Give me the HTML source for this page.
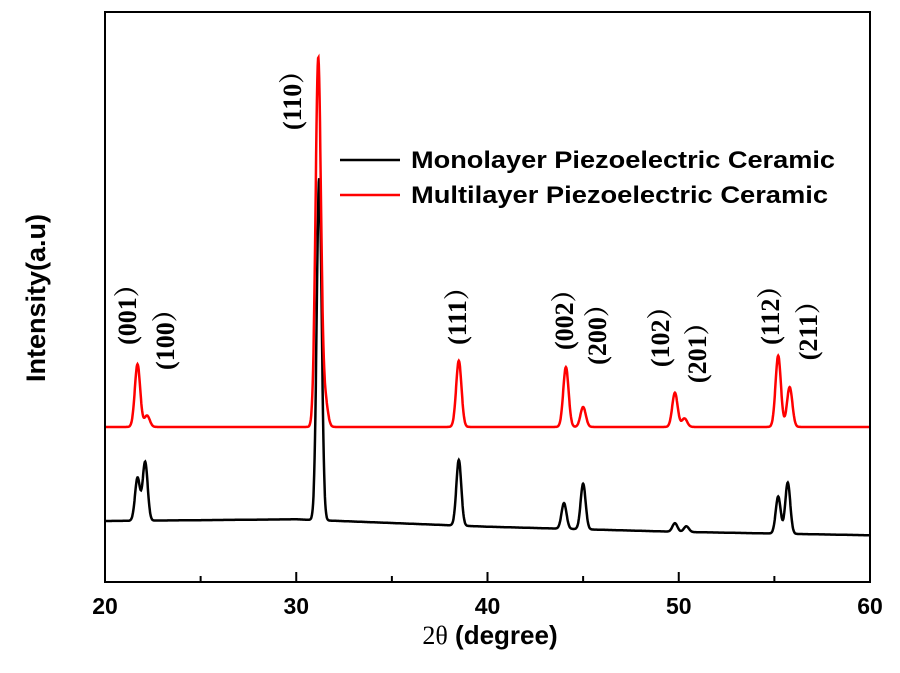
<!DOCTYPE html>
<html><head><meta charset="utf-8"><style>
body{margin:0;background:#fff}
svg text{font-family:"Liberation Sans",Arial,sans-serif}
.pk{font-family:"Liberation Serif","Noto Serif CJK SC",serif;font-weight:bold;font-size:26px}
</style></head><body>
<svg id="chart" width="900" height="668" xmlns="http://www.w3.org/2000/svg">
<rect width="900" height="668" fill="#fff"/>
<g id="series"></g>
<rect x="105" y="12" width="765" height="570" fill="none" stroke="#000" stroke-width="2"/>
<g id="axes"></g>
<text transform="translate(45,298) rotate(-90)" text-anchor="middle" font-size="27" font-weight="bold">Intensity(a.u)</text>
<text x="490" y="644" text-anchor="middle" font-size="26" font-weight="bold"><tspan font-family="Liberation Serif,serif" font-weight="normal">2θ</tspan> (degree)</text>
<g>
<line x1="340" y1="160" x2="400" y2="160" stroke="#000" stroke-width="2.5"/>
<text x="411" y="168" font-size="24" font-weight="bold" textLength="424" lengthAdjust="spacingAndGlyphs">Monolayer Piezoelectric Ceramic</text>
<line x1="340" y1="195" x2="400" y2="195" stroke="#f00" stroke-width="2.5"/>
<text x="411" y="203" font-size="24" font-weight="bold" textLength="417" lengthAdjust="spacingAndGlyphs">Multilayer Piezoelectric Ceramic</text>
</g>
<g id="labels"></g>
</svg>
<script>
const xTicks=[20,30,40,50,60];
const xMinor=[25,35,45,55];
const blackBase=[[20,10.7],[30,11],[40,9.7],[50,8.8],[60,8.2]];
const blackPos=[21.7,22.1,31.2,38.5,44.0,45.0,49.8,50.4,55.2,55.7];
const blackH=[7.5,10.3,60,11.5,4.5,8,1.5,1,6.5,9];
const redBase=[[20,27.2],[60,27.2]];
const redPos=[21.7,22.2,31.15,31.5,38.5,44.1,45.0,49.8,50.3,55.2,55.8];
const redH=[11,2,64.7,5,11.6,10.5,3.5,6,1.5,12.5,7];
const peakLabels=["(001）","(100）","(110）","(111）","(002）","(200）","(102）","(201）","(112）","(211）"];
const labelX=[21.15,23.14,29.78,38.4,44.0,45.72,49.02,50.95,54.77,56.76];
const labelY=[41.6,37.2,79.3,41.6,40.7,38.1,37.7,34.9,41.6,38.9];

const NS="http://www.w3.org/2000/svg";
const X=v=>105+(v-20)*765/40;
const Y=v=>582-v*5.7;
function base(b,x){for(let i=0;i<b.length-1;i++){if(x<=b[i+1][0]){const t=(x-b[i][0])/(b[i+1][0]-b[i][0]);return b[i][1]+t*(b[i+1][1]-b[i][1]);}}return b[b.length-1][1];}
function curve(b,pos,h,sig){let d="";for(let x=20;x<=60.0001;x+=0.02){let v=base(b,x);for(let i=0;i<pos.length;i++){const z=(x-pos[i])/sig;v+=h[i]*Math.exp(-0.5*z*z);}d+=(d?"L":"M")+X(x).toFixed(1)+","+Y(v).toFixed(1);}return d;}
const sg=document.getElementById('series');
const pb=document.createElementNS(NS,'path');
pb.setAttribute('d',curve(blackBase,blackPos,blackH,0.13));
pb.setAttribute('fill','none');pb.setAttribute('stroke','#000');pb.setAttribute('stroke-width','2.5');


sg.appendChild(pb);
const pr=document.createElementNS(NS,'path');
pr.setAttribute('d',curve(redBase,redPos,redH,0.14));
pr.setAttribute('fill','none');pr.setAttribute('stroke','#f00');pr.setAttribute('stroke-width','2.5');


sg.appendChild(pr);
const ax=document.getElementById('axes');
xTicks.forEach(t=>{
 const l=document.createElementNS(NS,'line');
 l.setAttribute('x1',X(t));l.setAttribute('x2',X(t));l.setAttribute('y1',582);l.setAttribute('y2',572);l.setAttribute('stroke','#000');l.setAttribute('stroke-width','2');
 
 
 ax.appendChild(l);
 const tx=document.createElementNS(NS,'text');
 tx.setAttribute('x',X(t));tx.setAttribute('y',614);tx.setAttribute('text-anchor','middle');tx.setAttribute('font-size','23');tx.setAttribute('font-weight','bold');
 tx.textContent=t;
 
 
 ax.appendChild(tx);
});
xMinor.forEach(t=>{
 const l=document.createElementNS(NS,'line');
 l.setAttribute('x1',X(t));l.setAttribute('x2',X(t));l.setAttribute('y1',582);l.setAttribute('y2',576);l.setAttribute('stroke','#000');l.setAttribute('stroke-width','2');
 
 
 ax.appendChild(l);
});
const lg=document.getElementById('labels');
peakLabels.forEach((s,i)=>{
 const tx=document.createElementNS(NS,'text');
 tx.setAttribute('class','pk');
 tx.setAttribute('transform','translate('+(X(labelX[i])+9)+','+Y(labelY[i])+') rotate(-90)');
 tx.textContent=s;
 
 
 lg.appendChild(tx);
});
</script>
</body></html>
